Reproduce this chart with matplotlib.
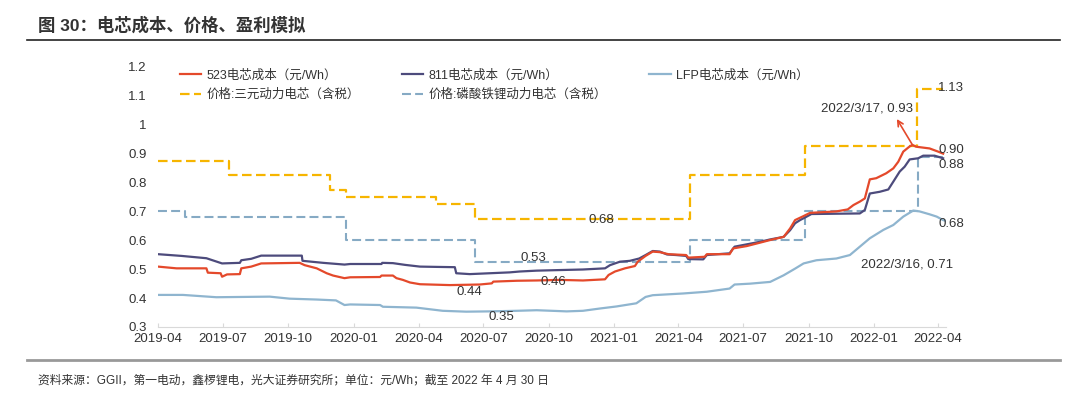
import numpy as np
import pandas as pd
import matplotlib
matplotlib.use("Agg")
import matplotlib.pyplot as plt
import matplotlib.dates as mdates
from matplotlib.ticker import FuncFormatter

plt.rcParams['font.family'] = ['Liberation Sans', 'Noto Sans CJK SC', 'DejaVu Sans']
plt.rcParams['axes.unicode_minus'] = False

# 价格：三元动力电芯（含税），阶梯
ncm_price_dates = ['2019-04-01', '2019-07-10', '2019-11-28', '2019-12-21', '2020-04-25',
                   '2020-06-19', '2021-04-17', '2021-09-26', '2022-03-03', '2022-04-08']
ncm_price_vals = [0.875, 0.825, 0.775, 0.75, 0.725, 0.675, 0.825, 0.925, 1.125, 1.125]

# 价格：磷酸铁锂动力电芯（含税），阶梯
lfp_price_dates = ['2019-04-01', '2019-05-09', '2019-12-21', '2020-06-19', '2021-04-17',
                   '2021-09-26', '2022-03-04', '2022-04-08']
lfp_price_vals = [0.70, 0.68, 0.60, 0.525, 0.60, 0.70, 0.89, 0.89]

# 523电芯成本
c523_dates = ['2019-04-01', '2019-04-27', '2019-06-08', '2019-06-10', '2019-06-28', '2019-06-30',
              '2019-07-07', '2019-07-25', '2019-07-27', '2019-08-10', '2019-08-24', '2019-10-17',
              '2019-10-24', '2019-11-10', '2019-11-24', '2019-12-03', '2019-12-19', '2019-12-27',
              '2020-02-07', '2020-02-09', '2020-02-25', '2020-03-01', '2020-03-10', '2020-03-20',
              '2020-04-03', '2020-05-15', '2020-06-26', '2020-07-13', '2020-07-15', '2020-08-17',
              '2020-09-14', '2020-10-16', '2020-11-18', '2020-12-19', '2020-12-24', '2021-01-02',
              '2021-01-16', '2021-01-30', '2021-02-03', '2021-02-14', '2021-02-24', '2021-03-06',
              '2021-03-18', '2021-04-12', '2021-04-15', '2021-05-08', '2021-05-11', '2021-06-12',
              '2021-06-17', '2021-07-06', '2021-07-25', '2021-08-08', '2021-08-27', '2021-09-05',
              '2021-09-12', '2021-09-24', '2021-10-03', '2021-11-09', '2021-11-25', '2021-12-03',
              '2021-12-12', '2021-12-19', '2021-12-26', '2022-01-04', '2022-01-18', '2022-01-28',
              '2022-02-04', '2022-02-11', '2022-02-20', '2022-02-24', '2022-03-01', '2022-03-20',
              '2022-04-01', '2022-04-08']
c523_vals = [0.509, 0.503, 0.503, 0.488, 0.486, 0.474,
             0.482, 0.483, 0.503, 0.509, 0.520, 0.522,
             0.514, 0.503, 0.486, 0.478, 0.469, 0.472,
             0.473, 0.478, 0.478, 0.469, 0.463, 0.454,
             0.448, 0.445, 0.447, 0.451, 0.457, 0.460,
             0.461, 0.463, 0.461, 0.465, 0.480, 0.492,
             0.503, 0.511, 0.526, 0.546, 0.561, 0.559,
             0.552, 0.549, 0.540, 0.543, 0.552, 0.552,
             0.572, 0.580, 0.592, 0.601, 0.612, 0.641,
             0.670, 0.684, 0.695, 0.700, 0.707, 0.722,
             0.734, 0.745, 0.811, 0.815, 0.832, 0.849,
             0.872, 0.907, 0.925, 0.930, 0.924, 0.918,
             0.907, 0.900]

# 811电芯成本
c811_dates = ['2019-04-01', '2019-05-04', '2019-06-08', '2019-06-30', '2019-07-25', '2019-07-27',
              '2019-08-10', '2019-08-24', '2019-10-20', '2019-10-21', '2019-11-19', '2019-12-19',
              '2019-12-27', '2020-02-09', '2020-02-10', '2020-02-25', '2020-03-13', '2020-04-03',
              '2020-04-26', '2020-05-22', '2020-05-24', '2020-06-12', '2020-07-10', '2020-08-07',
              '2020-08-21', '2020-09-14', '2020-10-16', '2020-11-18', '2020-12-19', '2020-12-26',
              '2021-01-09', '2021-01-23', '2021-02-05', '2021-02-14', '2021-02-24', '2021-03-06',
              '2021-03-16', '2021-03-29', '2021-04-12', '2021-04-15', '2021-05-06', '2021-05-11',
              '2021-06-12', '2021-06-19', '2021-07-06', '2021-07-25', '2021-08-08', '2021-08-27',
              '2021-09-05', '2021-09-12', '2021-09-19', '2021-09-26', '2021-10-05', '2021-12-12',
              '2021-12-19', '2021-12-26', '2022-01-09', '2022-01-21', '2022-01-28', '2022-02-06',
              '2022-02-13', '2022-02-20', '2022-03-04', '2022-03-11', '2022-03-27', '2022-04-08']
c811_vals = [0.552, 0.546, 0.538, 0.520, 0.522, 0.531,
             0.536, 0.547, 0.547, 0.529, 0.522, 0.516,
             0.518, 0.518, 0.522, 0.521, 0.515, 0.509,
             0.508, 0.507, 0.486, 0.483, 0.486, 0.489,
             0.492, 0.495, 0.497, 0.499, 0.503, 0.514,
             0.526, 0.529, 0.537, 0.549, 0.563, 0.561,
             0.551, 0.549, 0.546, 0.535, 0.534, 0.549,
             0.555, 0.578, 0.586, 0.595, 0.603, 0.612,
             0.635, 0.659, 0.670, 0.679, 0.691, 0.693,
             0.705, 0.762, 0.768, 0.776, 0.803, 0.838,
             0.855, 0.880, 0.884, 0.893, 0.893, 0.884]

# LFP电芯成本
lfp_dates = ['2019-04-01', '2019-05-06', '2019-06-22', '2019-09-05', '2019-10-03', '2019-11-10',
             '2019-12-07', '2019-12-19', '2019-12-27', '2020-02-07', '2020-02-11', '2020-03-29',
             '2020-05-05', '2020-06-07', '2020-07-10', '2020-08-17', '2020-09-14', '2020-10-16',
             '2020-10-26', '2020-11-18', '2020-12-12', '2021-01-04', '2021-02-01', '2021-02-14',
             '2021-02-24', '2021-04-08', '2021-05-11', '2021-06-12', '2021-06-19', '2021-07-11',
             '2021-08-08', '2021-08-27', '2021-09-12', '2021-09-24', '2021-10-12', '2021-11-09',
             '2021-11-28', '2021-12-12', '2021-12-26', '2022-01-14', '2022-01-28', '2022-02-11',
             '2022-02-25', '2022-03-06', '2022-03-20', '2022-03-30', '2022-04-08', '2022-04-11']
lfp_vals = [0.411, 0.411, 0.403, 0.405, 0.398, 0.395,
            0.392, 0.376, 0.378, 0.376, 0.370, 0.367,
            0.356, 0.353, 0.354, 0.356, 0.358, 0.355,
            0.354, 0.356, 0.364, 0.371, 0.382, 0.404,
            0.410, 0.416, 0.422, 0.433, 0.447, 0.450,
            0.456, 0.479, 0.502, 0.520, 0.531, 0.537,
            0.549, 0.578, 0.607, 0.636, 0.653, 0.682,
            0.703, 0.700, 0.690, 0.682, 0.670, 0.668]

legend_labels = ['523电芯成本（元/Wh）', '价格:三元动力电芯（含税）', '811电芯成本（元/Wh）',
                 '价格:磷酸铁锂动力电芯（含税）', 'LFP电芯成本（元/Wh）']

c_red = '#E4492B'
c_navy = '#4D4B7C'
c_lfp = '#8FB5CF'
c_yellow = '#F6B500'
c_lfpp = '#86AAC4'
c_text = '#333333'

fig = plt.figure(figsize=(10.8, 3.94), dpi=100)
ax = fig.add_axes([0.1463, 0.1701, 0.7296, 0.6599])

d = pd.to_datetime
l_lfpp, = ax.plot(d(lfp_price_dates), lfp_price_vals, drawstyle='steps-post', color=c_lfpp,
                  lw=1.5, dashes=(4.3, 2.0))
l_ncmp, = ax.plot(d(ncm_price_dates), ncm_price_vals, drawstyle='steps-post', color=c_yellow,
                  lw=1.6, dashes=(4.3, 2.0))
l_lfp, = ax.plot(d(lfp_dates), lfp_vals, color=c_lfp, lw=1.6)
l_811, = ax.plot(d(c811_dates), c811_vals, color=c_navy, lw=1.6)
l_523, = ax.plot(d(c523_dates), c523_vals, color=c_red, lw=1.6)

ax.set_xlim(d('2019-04-01'), d('2022-04-12'))
ax.set_ylim(0.3, 1.2)
ax.set_yticks(np.round(np.arange(0.3, 1.21, 0.1), 1))
ax.yaxis.set_major_formatter(FuncFormatter(lambda v, p: f'{v:g}'))
ax.set_xticks(pd.date_range('2019-04-01', '2022-04-01', freq='3MS'))
ax.xaxis.set_major_formatter(mdates.DateFormatter('%Y-%m'))

for s in ['top', 'right', 'left']:
    ax.spines[s].set_visible(False)
ax.spines['bottom'].set_color('#d9d9d9')
ax.spines['bottom'].set_linewidth(0.8)
ax.tick_params(axis='y', length=0, pad=8, labelsize=9.5, labelcolor=c_text)
ax.tick_params(axis='x', length=3, direction='in', color='#d9d9d9', pad=4,
               labelsize=9.5, labelcolor=c_text)

ax.legend([l_523, l_ncmp, l_811, l_lfpp, l_lfp], legend_labels, ncol=3, loc='upper left',
          bbox_to_anchor=(0.028, 0.99), frameon=False, fontsize=9, handlelength=1.7,
          handletextpad=0.4, columnspacing=3.4, labelspacing=0.55, borderpad=0,
          borderaxespad=0, labelcolor=c_text)

# 数值标注
tk = dict(fontsize=9.5, color=c_text)
ax.text(d('2020-12-14'), 0.670, '0.68', ha='center', va='center', **tk)
ax.text(d('2020-09-09'), 0.538, '0.53', ha='center', va='center', **tk)
ax.text(d('2020-06-12'), 0.422, '0.44', ha='center', va='center', **tk)
ax.text(d('2020-10-07'), 0.454, '0.46', ha='center', va='center', **tk)
ax.text(d('2020-07-27'), 0.336, '0.35', ha='center', va='center', **tk)
ax.text(d('2022-04-01'), 1.127, '1.13', ha='left', va='center', **tk)
ax.text(d('2022-04-01'), 0.913, '0.90', ha='left', va='center', **tk)
ax.text(d('2022-04-01'), 0.861, '0.88', ha='left', va='center', **tk)
ax.text(d('2022-04-01'), 0.657, '0.68', ha='left', va='center', **tk)
ax.text(d('2022-02-16'), 0.518, '2022/3/16, 0.71', ha='center', va='center', **tk)
ax.text(d('2021-12-22'), 1.058, '2022/3/17, 0.93', ha='center', va='center', **tk)
ax.annotate('', xy=(d('2022-02-02'), 1.02), xytext=(d('2022-02-24'), 0.93),
            arrowprops=dict(arrowstyle='->', color=c_red, lw=1.2, shrinkA=0, shrinkB=0))

# 标题、分隔线、来源
fig.text(38 / 1080, 1 - 25 / 394, '图 30：电芯成本、价格、盈利模拟', fontsize=12.5,
         fontweight='bold', color=c_text, ha='left', va='center')
fig.add_artist(plt.Line2D([27 / 1080, 1060 / 1080], [1 - 40 / 394] * 2, color='#222222', lw=1.2))
fig.add_artist(plt.Line2D([27 / 1080, 1060 / 1080], [1 - 360 / 394] * 2, color='#999999', lw=2))
fig.text(38 / 1080, 1 - 380 / 394,
         '资料来源：GGII，第一电动，鑫椤锂电，光大证券研究所；单位：元/Wh；截至 2022 年 4 月 30 日',
         fontsize=8.5, color=c_text, ha='left', va='center')

fig.savefig('out.png', dpi=100)
